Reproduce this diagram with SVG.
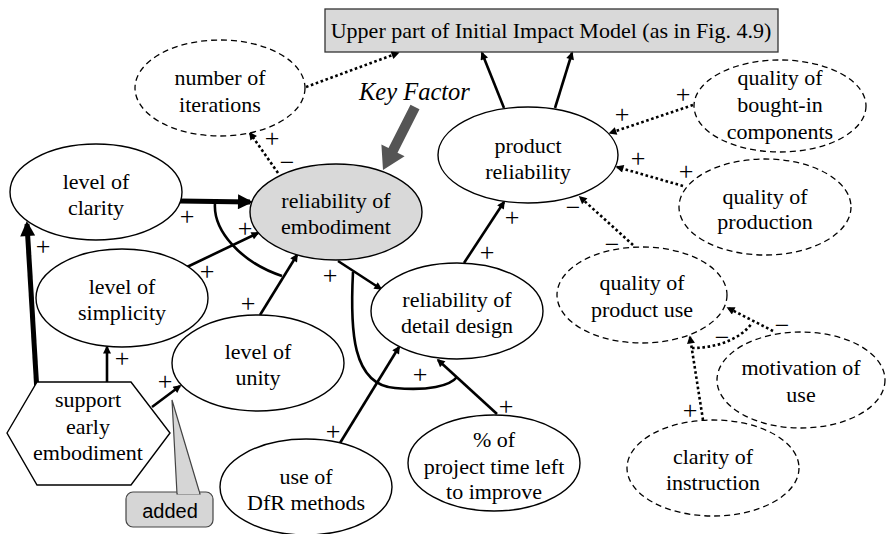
<svg xmlns="http://www.w3.org/2000/svg" width="886" height="534" viewBox="0 0 886 534" font-family="'Liberation Serif', 'Times New Roman', serif">
<style>
text{font-family:'Liberation Serif','Times New Roman',serif;font-size:22px;fill:#000000;text-anchor:middle}
text.sg{font-size:26px;fill:#000000}
.n{fill:#fff;stroke:#000;stroke-width:1.4}
.d{fill:#fff;stroke:#000;stroke-width:1.3;stroke-dasharray:6 4}
.c{fill:none;stroke:#000;stroke-width:2.6}
.t{fill:none;stroke:#000;stroke-width:5}
.o{fill:none;stroke:#000;stroke-width:2.6;stroke-dasharray:2.6 2.6}
</style>
<defs>
<marker id="a" viewBox="0 0 10 10" refX="8" refY="5" markerWidth="11" markerHeight="8" markerUnits="userSpaceOnUse" orient="auto"><path d="M0,0L10,5L0,10z" fill="#000"/></marker>
<marker id="b" viewBox="0 0 10 10" refX="8" refY="5" markerWidth="20" markerHeight="15" markerUnits="userSpaceOnUse" orient="auto"><path d="M0,0L10,5L0,10z" fill="#000"/></marker>
</defs>

<g id="box">
<rect x="325" y="9" width="453" height="43" fill="#d9d9d9" stroke="#333" stroke-width="1.3"/>
<text x="551" y="38">Upper part of Initial Impact Model (as in Fig. 4.9)</text>
</g>

<g id="keyfactor">
<text x="359" y="100" font-style="italic" text-anchor="start" style="text-anchor:start;font-style:italic;font-size:24.5px">Key Factor</text>
<polygon points="419.5,109.3 397.5,152.7 404.6,156.3 383,170 381.4,144.5 388.5,148.1 410.5,104.7" fill="#555"/>
</g>

<g id="connectors">
<line class="t" x1="180" y1="201" x2="250" y2="202" marker-end="url(#b)"/>
<line class="c" x1="187" y1="267" x2="258" y2="233" marker-end="url(#a)"/>
<line class="c" x1="260" y1="315" x2="297" y2="255" marker-end="url(#a)"/>
<path class="c" d="M215,203 C213,230 240,262 282,276"/>
<line class="c" x1="338" y1="261" x2="381" y2="289" marker-end="url(#a)"/>
<path class="c" d="M353,272 C350,330 352,385 395,388 C428,391 450,386 457,377"/>
<line class="c" x1="340" y1="443" x2="399" y2="347" marker-end="url(#a)"/>
<line class="c" x1="497" y1="414" x2="438" y2="360" marker-end="url(#a)"/>
<line class="c" x1="464" y1="263" x2="504" y2="202" marker-end="url(#a)"/>
<line class="c" x1="504" y1="108" x2="482" y2="53" marker-end="url(#a)"/>
<line class="c" x1="555" y1="108" x2="572" y2="53" marker-end="url(#a)"/>
<line class="t" x1="37" y1="392" x2="27" y2="224" marker-end="url(#b)"/>
<line class="c" x1="107" y1="382" x2="107" y2="347" marker-end="url(#a)"/>
<line class="c" x1="152" y1="407" x2="180" y2="386" marker-end="url(#a)"/>
<line class="o" x1="278" y1="173" x2="250" y2="133" marker-end="url(#a)"/>
<line class="o" x1="306" y1="87" x2="398" y2="53" marker-end="url(#a)"/>
<line class="o" x1="693" y1="105" x2="610" y2="133" marker-end="url(#a)"/>
<line class="o" x1="683" y1="186" x2="617" y2="167" marker-end="url(#a)"/>
<line class="o" x1="633" y1="245" x2="580" y2="197" marker-end="url(#a)"/>
<line class="o" x1="773" y1="331" x2="728" y2="308" marker-end="url(#a)"/>
<line class="o" x1="703" y1="420" x2="690" y2="337" marker-end="url(#a)"/>
<path class="o" d="M692,348 C715,348 740,340 752,323"/>
</g>

<g id="labels" fill="#000">
<text class="sg" x="187" y="225">+</text>
<text class="sg" x="245" y="237">+</text>
<text class="sg" x="207" y="280">+</text>
<text class="sg" x="248" y="312">+</text>
<text class="sg" x="330" y="284">+</text>
<text class="sg" x="420" y="383">+</text>
<text class="sg" x="333" y="440">+</text>
<text class="sg" x="506" y="415">+</text>
<text class="sg" x="487" y="261">+</text>
<text class="sg" x="512" y="226">+</text>
<text class="sg" x="43" y="255">+</text>
<text class="sg" x="122" y="367">+</text>
<text class="sg" x="165" y="390">+</text>
<text class="sg" x="272" y="147">+</text>
<text class="sg" x="287" y="171">−</text>
<text class="sg" x="683" y="103">+</text>
<text class="sg" x="622" y="123">+</text>
<text class="sg" x="638" y="167">+</text>
<text class="sg" x="686" y="180">+</text>
<text class="sg" x="573" y="216">−</text>
<text class="sg" x="612" y="253">−</text>
<text class="sg" x="782" y="334">−</text>
<text class="sg" x="722" y="346">−</text>
<text class="sg" x="690" y="419">+</text>
</g>

<g id="n-iterations"><ellipse class="d" cx="220" cy="88" rx="85" ry="48"/><text x="220" y="85">number of</text><text x="220" y="112">iterations</text></g>
<g id="n-clarity"><ellipse class="n" cx="96" cy="192" rx="86" ry="48"/><text x="96" y="189">level of</text><text x="96" y="215">clarity</text></g>
<g id="n-embodiment"><ellipse cx="336" cy="212" rx="86" ry="48" fill="#d9d9d9" stroke="#000" stroke-width="1.4"/><text x="336" y="208">reliability of</text><text x="336" y="234">embodiment</text></g>
<g id="n-simplicity"><ellipse class="n" cx="122" cy="298" rx="86" ry="49"/><text x="122" y="294">level of</text><text x="122" y="320">simplicity</text></g>
<g id="n-unity"><ellipse class="n" cx="258" cy="363" rx="86" ry="48"/><text x="258" y="359">level of</text><text x="258" y="385">unity</text></g>
<g id="n-detail"><ellipse class="n" cx="457" cy="311" rx="86" ry="48"/><text x="457" y="307">reliability of</text><text x="457" y="333">detail design</text></g>
<g id="n-dfr"><ellipse class="n" cx="306" cy="487" rx="86" ry="48"/><text x="306" y="484">use of</text><text x="306" y="510">DfR methods</text></g>
<g id="n-time"><ellipse class="n" cx="494" cy="463" rx="86" ry="48"/><text x="494" y="447">% of</text><text x="494" y="474">project time left</text><text x="494" y="499">to improve</text></g>
<g id="n-product"><ellipse class="n" cx="528" cy="155" rx="90" ry="48"/><text x="528" y="153">product</text><text x="528" y="179">reliability</text></g>
<g id="n-bought"><ellipse class="d" cx="780" cy="106" rx="86" ry="46"/><text x="780" y="85">quality of</text><text x="780" y="112">bought-in</text><text x="780" y="139">components</text></g>
<g id="n-production"><ellipse class="d" cx="765" cy="207" rx="86" ry="48"/><text x="765" y="204">quality of</text><text x="765" y="229">production</text></g>
<g id="n-use"><ellipse class="d" cx="642" cy="295" rx="85" ry="48"/><text x="642" y="290">quality of</text><text x="642" y="317">product use</text></g>
<g id="n-motivation"><ellipse class="d" cx="801" cy="380" rx="84" ry="48"/><text x="801" y="375">motivation of</text><text x="801" y="402">use</text></g>
<g id="n-instruction"><ellipse class="d" cx="713" cy="468" rx="86" ry="48"/><text x="713" y="464">clarity of</text><text x="713" y="490">instruction</text></g>
<g id="n-support"><polygon class="n" points="7,433 37,382 131,382 170,433 131,485 37,485"/><text x="88" y="407">support</text><text x="88" y="434">early</text><text x="88" y="460">embodiment</text></g>
<g id="n-added">
<rect x="126" y="492" width="87" height="35" rx="7" fill="#d6d6d6" stroke="#444" stroke-width="1.2"/>
<polygon points="177,494 172,400 200,494" fill="#d6d6d6" stroke="#444" stroke-width="1.2"/>
<line x1="178" y1="493" x2="199" y2="493" stroke="#d6d6d6" stroke-width="2.5"/>
<text x="170" y="518" font-family="'Liberation Sans', Arial, sans-serif" style="font-family:'Liberation Sans',Arial,sans-serif;font-size:20px">added</text>
</g>
</svg>
